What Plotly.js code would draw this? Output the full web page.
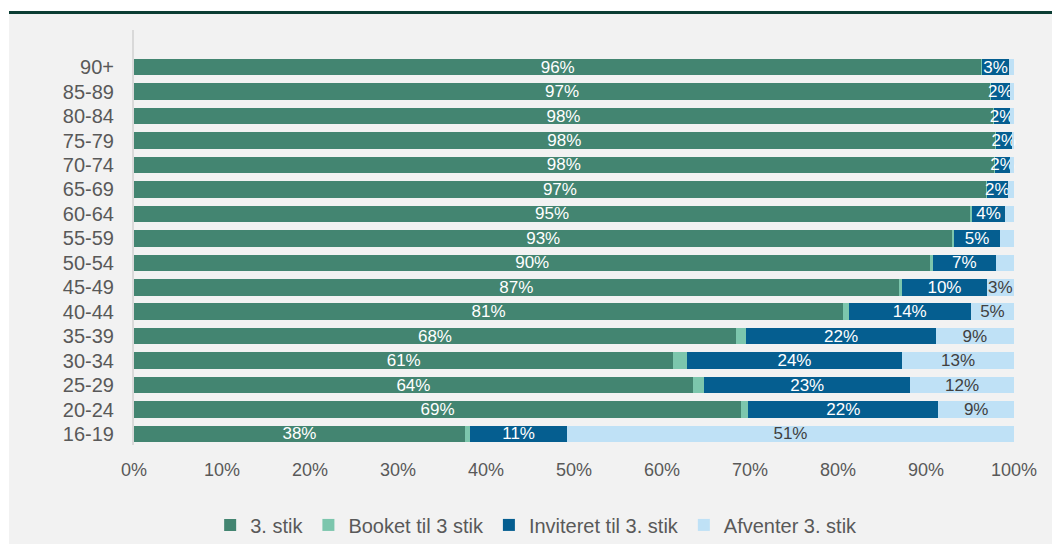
<!DOCTYPE html>
<html>
<head>
<meta charset="utf-8">
<script src="https://cdn.plot.ly/plotly-3.0.1.min.js"></script>
<style>
  html, body { margin: 0; padding: 0; background: #ffffff; }
  #frame { position: absolute; left: 9px; top: 11px; width: 1043px; border-top: 3px solid #0b3d34; background: #f2f2f2; }
  #chart { width: 1043px; height: 530px; }
</style>
</head>
<body>
<div id="frame"><div id="chart"></div></div>
<script>
// age groups, bottom to top
const ageGroups = ['16-19', '20-24', '25-29', '30-34', '35-39', '40-44', '45-49', '50-54',
                   '55-59', '60-64', '65-69', '70-74', '75-79', '80-84', '85-89', '90+'];

// shares in percent
const stik3     = [37.6, 69.0, 63.5, 61.3, 68.4, 80.6, 86.9, 90.5, 93.0, 95.0, 96.8, 97.7, 97.8, 97.6, 97.3, 96.3];
const booket    = [0.6, 0.8, 1.3, 1.5, 1.2, 0.6, 0.4, 0.3, 0.2, 0.2, 0.1, 0.1, 0.1, 0.1, 0.1, 0.1];
const inviteret = [11.0, 21.6, 23.4, 24.5, 21.5, 13.9, 9.6, 7.1, 5.2, 3.8, 2.4, 1.8, 1.9, 1.9, 2.1, 3.0];
const afventer  = stik3.map((v, i) => Math.max(0, 100 - v - booket[i] - inviteret[i]));

// data labels as printed on the chart
const stik3Labels     = ['38%', '69%', '64%', '61%', '68%', '81%', '87%', '90%', '93%', '95%', '97%', '98%', '98%', '98%', '97%', '96%'];
const inviteretLabels = ['11%', '22%', '23%', '24%', '22%', '14%', '10%', '7%', '5%', '4%', '2%', '2%', '2%', '2%', '2%', '3%'];
const afventerLabels  = ['51%', '9%', '12%', '13%', '9%', '5%', '3%', '', '', '', '', '', '', '', '', ''];

const seriesNames = ['3. stik', 'Booket til 3 stik', 'Inviteret til 3. stik', 'Afventer 3. stik'];
const colors = ['#438571', '#7cc6ad', '#055e90', '#bfe1f6'];

function trace(values, idx, labels, textColor) {
  return {
    type: 'bar',
    orientation: 'h',
    y: ageGroups,
    x: values.map(v => v / 100),
    name: seriesNames[idx],
    marker: { color: colors[idx], line: { width: 0 } },
    width: 0.68,
    text: labels,
    texttemplate: labels ? '%{text}' : '',
    textposition: labels ? 'inside' : 'none',
    insidetextanchor: 'middle',
    constraintext: 'none',
    textangle: 0,
    cliponaxis: false,
    textfont: { family: 'Liberation Sans, Arial, sans-serif', size: 17, color: textColor },
    hoverinfo: 'skip'
  };
}

const data = [
  trace(stik3, 0, stik3Labels, '#ffffff'),
  trace(booket, 1, null, '#ffffff'),
  trace(inviteret, 2, inviteretLabels, '#ffffff'),
  trace(afventer, 3, afventerLabels, '#404040')
];

const layout = {
  barmode: 'stack',
  width: 1043,
  height: 530,
  margin: { l: 125, r: 38, t: 16, b: 99, autoexpand: false },
  paper_bgcolor: '#f2f2f2',
  plot_bgcolor: '#f2f2f2',
  font: { family: 'Liberation Sans, Arial, sans-serif', size: 18, color: '#595959' },
  xaxis: {
    range: [0, 1],
    tickformat: '.0%',
    dtick: 0.1,
    showgrid: false,
    zeroline: false,
    showline: false,
    ticks: '',
    ticklabelstandoff: 12,
    tickfont: { size: 18, color: '#595959' },
    fixedrange: true
  },
  yaxis: {
    type: 'category',
    categoryorder: 'array',
    categoryarray: ageGroups,
    range: [-0.45, 16.52],
    showgrid: false,
    zeroline: false,
    showline: true,
    linecolor: '#d9d9d9',
    linewidth: 2,
    ticks: '',
    ticklabelstandoff: 14,
    tickfont: { size: 20, color: '#595959' },
    fixedrange: true
  },
  showlegend: true,
  legend: {
    orientation: 'h',
    x: 0.457,
    xanchor: 'center',
    yref: 'container',
    y: 0.036,
    yanchor: 'middle',
    traceorder: 'normal',
    font: { size: 20, color: '#595959' },
    itemwidth: 30,
    bgcolor: 'rgba(0,0,0,0)'
  },
  bargap: 0.3
};

Plotly.newPlot('chart', data, layout, { displayModeBar: false, staticPlot: true });
</script>
</body>
</html>
